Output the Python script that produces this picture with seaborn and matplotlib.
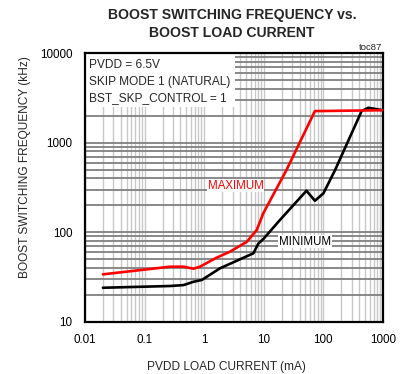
import matplotlib
matplotlib.use("Agg")
import matplotlib.pyplot as plt
import seaborn as sns
import pandas as pd
from matplotlib.patches import Rectangle

# ---- data ----
max_current = [0.02, 0.27, 0.45, 0.66, 0.85, 1.6, 2.7, 5.2, 7.6, 9.8, 24, 72, 1000]
max_freq = [34, 41.4, 41.4, 39.3, 41.4, 52, 60.8, 78.5, 106, 163, 495, 2250, 2300]

min_current = [0.02, 0.27, 0.45, 0.66, 0.91, 1.84, 6.7, 8.1, 9.8, 18.6, 52, 72, 100, 157, 438, 566, 1000]
min_freq = [24.1, 25.2, 25.8, 28.1, 29.4, 39.7, 58.4, 75, 84, 137, 291, 225, 272, 495, 2250, 2450, 2300]

x_ticks = [0.01, 0.1, 1, 10, 100, 1000]
x_tick_labels = ["0.01", "0.1", "1", "10", "100", "1000"]
y_ticks = [10, 100, 1000, 10000]
y_tick_labels = ["10", "100", "1000", "10000"]

conditions = ["PVDD = 6.5V", "SKIP MODE 1 (NATURAL)", "BST_SKP_CONTROL = 1"]

sns.set_style("white")
plt.rcParams['font.family'] = ['Liberation Sans', 'DejaVu Sans']

fig = plt.figure(figsize=(4.06, 3.74), dpi=100)
ax = fig.add_axes([85/406, 1-322/374, 298/406, 269/374])

df_max = pd.DataFrame({"current": max_current, "freq": max_freq})
df_min = pd.DataFrame({"current": min_current, "freq": min_freq})

sns.lineplot(data=df_max, x="current", y="freq", ax=ax, color="#ff0000",
             lw=1.9, sort=False, estimator=None, zorder=4)
sns.lineplot(data=df_min, x="current", y="freq", ax=ax, color="black",
             lw=1.9, sort=False, estimator=None, zorder=3)

ax.set_xscale("log")
ax.set_yscale("log")
ax.set_xlim(0.01, 1000)
ax.set_ylim(10, 10000)

ax.set_xticks(x_ticks)
ax.set_xticklabels(x_tick_labels)
ax.set_yticks(y_ticks)
ax.set_yticklabels(y_tick_labels)
ax.tick_params(axis='both', which='both', length=0, labelsize=8.4, colors='black')
ax.tick_params(axis='x', pad=8.5)
ax.tick_params(axis='y', pad=9.0)

ax.set_axisbelow(True)
ax.xaxis.grid(True, which='both', color='#c8c8c8', lw=1.0)
ax.yaxis.grid(True, which='both', color='#808080', lw=1.3)

for s in ax.spines.values():
    s.set_visible(True)
    s.set_color('black')
    s.set_linewidth(1.6)

ax.set_xlabel("PVDD LOAD CURRENT (mA)", fontsize=8.6, va='center', ha='center')
ax.set_ylabel("BOOST SWITCHING FREQUENCY (kHz)", fontsize=8.6, va='center', ha='center')
ax.xaxis.set_label_coords((226-85)/298, (322-367)/269)
ax.yaxis.set_label_coords((25-85)/298, (322-167)/269)

# conditions box
ax.add_patch(Rectangle((0, 0.80), 0.503, 0.20, transform=ax.transAxes,
                       facecolor='white', edgecolor='none', zorder=2))
for i, (t, yy) in enumerate(zip(conditions, [0.955, 0.893, 0.832])):
    ax.text(0.012, yy, t, transform=ax.transAxes, fontsize=8.6,
            va='center', ha='left', zorder=5)

ax.text(1.15, 331, "MAXIMUM", color='#ff0000', fontsize=8.3, va='center', ha='left',
        zorder=5, bbox=dict(facecolor='white', edgecolor='none', pad=0.5))
ax.text(18, 78.5, "MINIMUM", color='black', fontsize=8.3, va='center', ha='left',
        zorder=5, bbox=dict(facecolor='white', edgecolor='none', pad=0.5))

fig.text(232/406, 1-15/374, "BOOST SWITCHING FREQUENCY vs.", fontsize=10.1,
         fontweight='bold', ha='center', va='center')
fig.text(232/406, 1-33/374, "BOOST LOAD CURRENT", fontsize=10.1,
         fontweight='bold', ha='center', va='center')
fig.text(382/406, 1-48/374, "toc87", fontsize=6.8, ha='right', va='center')

fig.savefig("out.png", dpi=100)
